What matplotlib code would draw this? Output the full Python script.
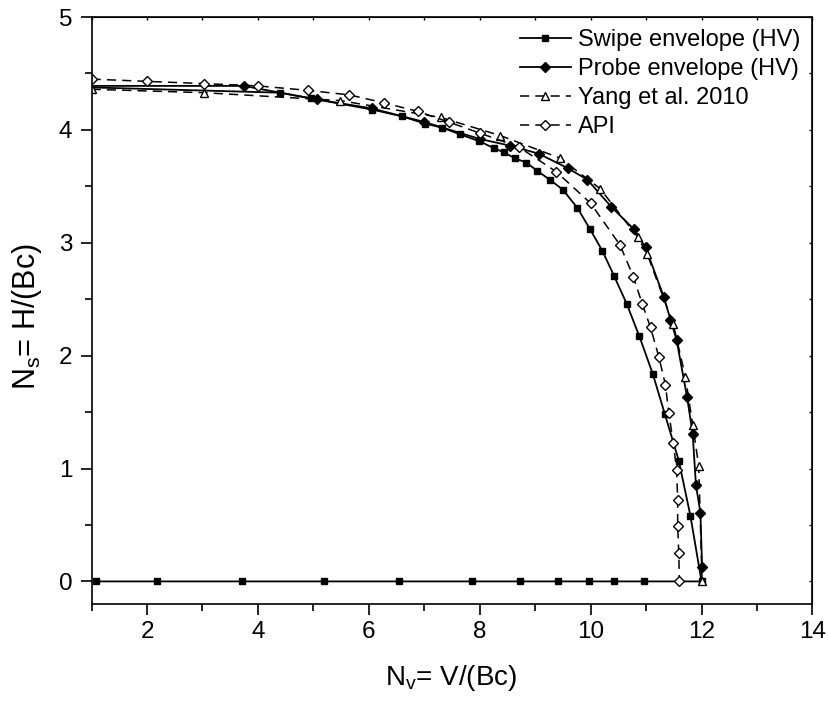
import numpy as np
import matplotlib.pyplot as plt
from matplotlib.ticker import MultipleLocator

plt.rcParams['font.family'] = ['Liberation Sans', 'DejaVu Sans']
plt.rcParams['mathtext.fontset'] = 'custom'
plt.rcParams['mathtext.rm'] = 'Liberation Sans'

# Swipe envelope (HV): curve down to (12, 0), then back along Ns = 0
swipe_x = [0.0, 4.39, 4.95, 6.06, 6.6, 7.02, 7.32, 7.65, 7.99, 8.25, 8.44, 8.63, 8.84,
           9.03, 9.26, 9.50, 9.76, 9.99, 10.21, 10.42, 10.65, 10.88, 11.12, 11.34,
           11.59, 11.80, 12.0, 10.97, 10.42, 9.97, 9.41, 8.73, 7.86, 6.54, 5.2,
           3.71, 2.18, 1.08]
swipe_y = [4.39, 4.33, 4.28, 4.18, 4.12, 4.055, 4.02, 3.96, 3.90, 3.84, 3.80, 3.75, 3.71,
           3.64, 3.56, 3.47, 3.31, 3.12, 2.93, 2.71, 2.46, 2.17, 1.84, 1.48,
           1.07, 0.58, 0.0, 0.0, 0.0, 0.0, 0.0, 0.0, 0.0, 0.0, 0.0,
           0.0, 0.0, 0.0]

# Probe envelope (HV)
probe_x = [0.0, 3.74, 5.06, 6.06, 7.0, 8.0, 8.55, 9.06, 9.59, 9.94, 10.37, 10.78,
           10.99, 11.32, 11.44, 11.55, 11.74, 11.84, 11.90, 11.98, 12.01]
probe_y = [4.39, 4.39, 4.27, 4.19, 4.07, 3.92, 3.86, 3.79, 3.66, 3.56, 3.32, 3.12,
           2.96, 2.52, 2.32, 2.14, 1.63, 1.31, 0.85, 0.61, 0.13]

# Yang et al. 2010
yang_x = [1.0, 3.02, 5.48, 7.30, 8.37, 9.45, 10.17, 10.85, 11.02, 11.49, 11.71, 11.84,
          11.95, 12.01]
yang_y = [4.36, 4.33, 4.26, 4.11, 3.95, 3.75, 3.48, 3.05, 2.90, 2.28, 1.81, 1.39,
          1.02, 0.0]

# API
api_x = [1.0, 2.0, 3.03, 4.0, 4.91, 5.65, 6.27, 6.88, 7.44, 8.01, 8.70, 9.38, 10.0,
         10.53, 10.77, 10.93, 11.08, 11.23, 11.35, 11.41, 11.49, 11.55, 11.57, 11.57,
         11.59, 11.60]
api_y = [4.45, 4.43, 4.41, 4.39, 4.35, 4.31, 4.24, 4.165, 4.07, 3.97, 3.85, 3.63, 3.35,
         2.98, 2.70, 2.46, 2.25, 1.99, 1.74, 1.49, 1.23, 0.99, 0.72, 0.49,
         0.25, 0.0]

fig = plt.figure(figsize=(8.29, 7.01), dpi=100)
ax = fig.add_axes([0.1105, 0.1384, 0.8695, 0.8373])

ax.plot(swipe_x, swipe_y, '-', color='black', lw=1.3, marker='s', ms=5,
        label='Swipe envelope (HV)')
ax.plot(probe_x, probe_y, '-', color='black', lw=1.3, marker='D', ms=5,
        label='Probe envelope (HV)')
ax.plot(yang_x, yang_y, '--', color='black', lw=1.1, dashes=(6, 4), marker='^', ms=6,
        mfc='white', mec='black', label='Yang et al. 2010')
ax.plot(api_x, api_y, '--', color='black', lw=1.1, dashes=(6, 4), marker='D', ms=5,
        mfc='white', mec='black', label='API')

ax.set_xlim(1, 14)
ax.set_ylim(-0.2, 5)
ax.xaxis.set_major_locator(MultipleLocator(2))
ax.xaxis.set_minor_locator(MultipleLocator(1))
ax.yaxis.set_major_locator(MultipleLocator(1))
ax.yaxis.set_minor_locator(MultipleLocator(0.5))
ax.tick_params(which='major', direction='out', length=8, width=1.2, labelsize=17.5)
ax.tick_params(which='minor', direction='out', length=5, width=1.2)
ax.tick_params(axis='x', which='major', pad=4.5)
ax.tick_params(axis='y', which='major', pad=6)
for s in ax.spines.values():
    s.set_linewidth(1.2)

# tiny inward ticks on the top and right frame
sec_x = ax.secondary_xaxis('top')
sec_x.xaxis.set_major_locator(MultipleLocator(1))
sec_x.tick_params(direction='in', length=2, width=1, labeltop=False)
sec_y = ax.secondary_yaxis('right')
sec_y.yaxis.set_major_locator(MultipleLocator(0.5))
sec_y.tick_params(direction='in', length=2, width=1, labelright=False)

ax.set_xlabel(r'N$_\mathregular{v}$= V/(Bc)', fontsize=20)
ax.set_ylabel(r'N$_\mathregular{s}$= H/(Bc)', fontsize=22)
ax.xaxis.set_label_coords(0.499, -0.10)
ax.yaxis.set_label_coords(-0.066, 0.49)

ax.legend(loc='upper left', bbox_to_anchor=(0.594, 0.98), frameon=False,
          fontsize=17, handlelength=2.15, handletextpad=0.33, labelspacing=0.3,
          borderpad=0, borderaxespad=0)

fig.savefig('out.png', dpi=100)
